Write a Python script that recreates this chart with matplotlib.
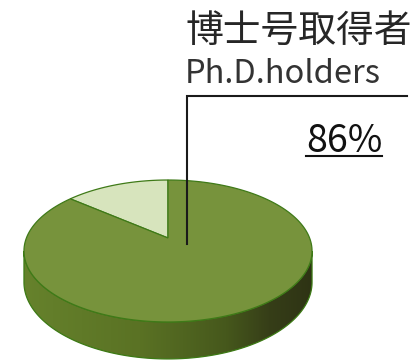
import numpy as np
import matplotlib
matplotlib.use("Agg")
import matplotlib.pyplot as plt
from matplotlib.patches import Polygon
from matplotlib.colors import LinearSegmentedColormap

plt.rcParams["font.family"] = ["Noto Sans CJK JP", "DejaVu Sans"]

# data
categories = ["その他", "博士号取得者"]
shares = [14, 86]
slice_colors = ["#d7e4bd", "#77933c"]
title_jp = "博士号取得者"
title_en = "Ph.D.holders"
pct_label = "86%"

# perspective pie geometry (pixels)
CX, CY = 168, 238
A, B = 141.6, 68.6
K = 0.183      # perspective strength (back is farther away)
H = 30.2       # thickness
START = 90


def project(theta_deg, depth=0.0):
    t = np.radians(theta_deg)
    u, v = np.cos(t), np.sin(t)
    s = 1.0 / (1.0 + K * v)
    return CX + A * u * s, CY - B * v * s + H * depth * s


fig = plt.figure(figsize=(4.15, 3.61), dpi=100)
ax = fig.add_axes([0, 0, 1, 1])
ax.set_xlim(0, 415)
ax.set_ylim(361, 0)
ax.axis("off")

# side wall (front half visible)
t_side = np.linspace(180 + np.degrees(np.arcsin(K)), 360 - np.degrees(np.arcsin(K)), 200)
xt, yt = project(t_side, 0)
xb, yb = project(t_side[::-1], 1)
side = Polygon(np.column_stack([np.r_[xt, xb], np.r_[yt, yb]]),
               closed=True, facecolor="none", edgecolor="#3c7a14", lw=0.9, zorder=2)
ax.add_patch(side)
side_cmap = LinearSegmentedColormap.from_list(
    "side", [(0, "#66822c"), (0.4, "#5a7224"), (0.7, "#46581c"),
             (0.85, "#363e18"), (1, "#2e3314")])
grad = np.linspace(0, 1, 256).reshape(1, -1)
img = ax.imshow(grad, cmap=side_cmap, aspect="auto",
                extent=(xt.min(), xt.max(), yb.max(), yt.min()), zorder=1)
img.set_clip_path(side)
ax.set_xlim(0, 415)
ax.set_ylim(361, 0)

# top face slices
fracs = np.array(shares, dtype=float) / sum(shares)
a0 = START
for frac, col in zip(fracs, slice_colors):
    a1 = a0 + frac * 360
    th = np.linspace(a0, a1, 200)
    px, py = project(th, 0)
    pts = np.column_stack([np.r_[CX, px], np.r_[CY, py]])
    ax.add_patch(Polygon(pts, closed=True, facecolor=col,
                         edgecolor="#3f7a18", lw=0.9, zorder=3))
    a0 = a1

# leader line
ax.plot([187, 187, 407], [244, 96, 96], color="#1a1a1a", lw=1.5,
        solid_joinstyle="miter", zorder=4)

ax.text(185, 31, title_jp, fontsize=27.2, color="#262626",
        ha="left", va="center", zorder=5)
ax.text(185, 83, title_en, fontsize=23.5, color="#333333",
        ha="left", va="baseline", zorder=5)
t = ax.text(344, 152, pct_label, fontsize=27, color="#111111",
            ha="center", va="baseline", zorder=5)

fig.canvas.draw()
bb = t.get_window_extent().transformed(ax.transData.inverted())
ax.plot([bb.x0, bb.x1], [155.5, 155.5], color="#111111", lw=1.5, zorder=5)

fig.savefig("out.png", dpi=100)
